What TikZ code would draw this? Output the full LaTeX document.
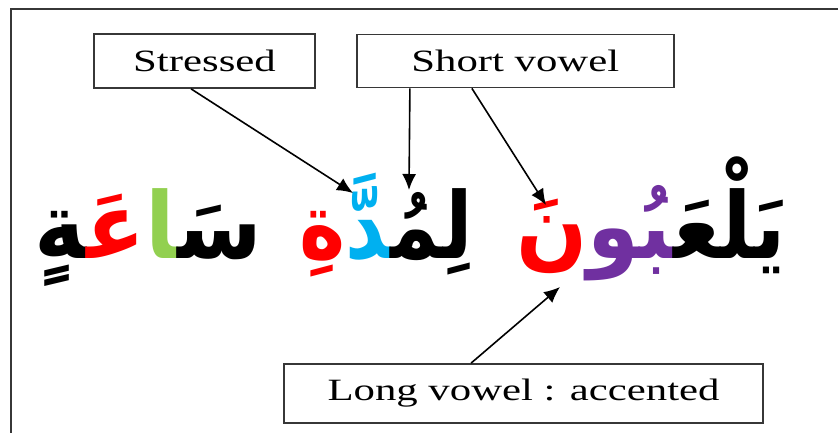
\documentclass[tikz,border=0pt]{standalone}
\usepackage{fontspec}
\usepackage{graphicx}
\setmainfont{Liberation Serif}
\newfontfamily\labelfont[FakeStretch=1.38]{Liberation Serif}
\newfontfamily\arabicfont[Script=Arabic]{DejaVu Sans}
\usetikzlibrary{arrows.meta,positioning}

\definecolor{vowelred}{RGB}{255,0,0}
\definecolor{stresspurple}{RGB}{112,48,160}
\definecolor{shaddablue}{RGB}{0,176,240}
\definecolor{alefgreen}{RGB}{146,208,80}
\definecolor{framegray}{RGB}{55,55,55}

\begin{document}
\begin{tikzpicture}[x=1pt,y=-1pt,>={Latex[length=16pt,width=14pt]}]
        \tikzset{tagbox/.style={draw=framegray,line width=1.8pt,inner sep=0pt,
                   font=\labelfont\fontsize{31}{33}\selectfont},
                 word/.style={inner sep=0pt,
                   font=\arabicfont\bfseries\fontsize{92}{96}\selectfont},
                 pointer/.style={->,line width=1.6pt}}
        \useasboundingbox (0,0) rectangle (838,433);

        % frame
        \draw[framegray,line width=2.5pt] (11,433) -- (11,9) -- (838,9);

        % labels
        \node[tagbox,minimum width=221pt,minimum height=54pt] (stressed) at (204.5,61) {Stressed};
        \node[tagbox,minimum width=317pt,minimum height=53pt,right=40pt of stressed] (short) {Short vowel};
        \node[tagbox,minimum width=479pt,minimum height=59pt] (long) at (523.5,393.5) {Long vowel : accented};

        % words (coloured pieces set left to right as they are seen)
        \node[word,anchor=base] (play) at (651,258)
          {\resizebox{270pt}{\height}{\textcolor{vowelred}{نَ}\textcolor{stresspurple}{^^^^200dبُو}يَلْعَ^^^^200d}};
        \node[word,base left=43pt of play] (period)
          {\resizebox{173pt}{\height}{\textcolor{vowelred}{ةِ}\textcolor{shaddablue}{^^^^200dدَّ}لِمُ^^^^200d}};
        \node[word,base left=37pt of period] (hour)
          {\resizebox{228pt}{\height}{^^^^200dةٍ\textcolor{vowelred}{عَ^^^^200d}\textcolor{alefgreen}{^^^^200dا}سَ^^^^200d}};

        \coordinate (shaddaTip) at (353,193);
        \coordinate (dammaTip)  at (409,190);
        \coordinate (fathaTip)  at (546,205);
        \coordinate (longTip)   at (560,287);

        \draw[pointer] ([xshift=98pt]stressed.south west) -- (shaddaTip);
        \draw[pointer] ([xshift=54pt]short.south west) -- (dammaTip);
        \draw[pointer] ([xshift=116pt]short.south west) -- (fathaTip);
        \draw[pointer] ([xshift=188pt]long.north west) -- (longTip);
\end{tikzpicture}
\end{document}
